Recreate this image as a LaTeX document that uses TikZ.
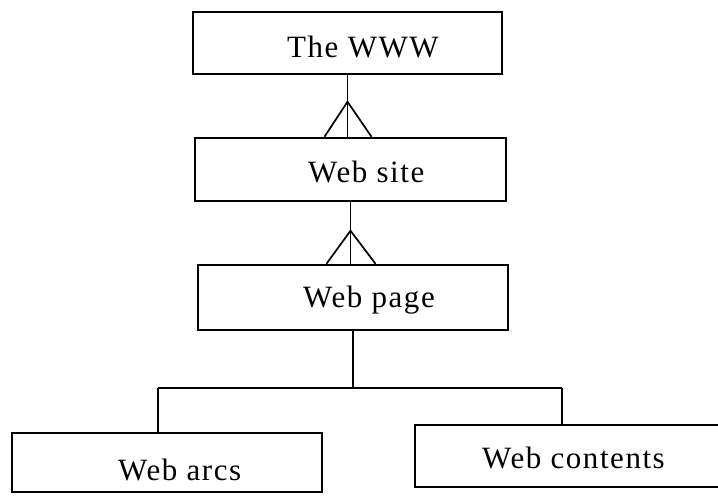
\documentclass[tikz,border=0pt]{standalone}
\usepackage{fontspec}
\setmainfont{Liberation Serif}[LetterSpace=5]
\usetikzlibrary{calc}
\tikzset{
  box/.style={draw, line width=2.5pt, rectangle, inner sep=0pt},
  conn/.style={line width=1.7pt},
  lbl/.style={anchor=base west, inner sep=0pt, font=\fontsize{31}{36}\selectfont},
}
\begin{document}
\begin{tikzpicture}[x=1pt,y=-1pt]
\useasboundingbox (0,0) rectangle (718,497);
\clip (0,0) rectangle (718,497);
% boxes
\node[box, minimum width=309pt, minimum height=62pt] (www)  at (347.5,43) {};
\node[box, minimum width=311pt, minimum height=63pt] (site) at (350.5,169.5) {};
\node[box, minimum width=310pt, minimum height=65pt] (page) at (353,297.5) {};
\node[box, minimum width=310pt, minimum height=59pt] (arcs) at (167,462.5) {};
\node[box, minimum width=360pt, minimum height=62pt] (cont) at (595,456) {};
% labels
\node[lbl] (t1) at (287,58)  {The WWW};
\node[lbl] (t2) at (308,183) {Web site};
\node[lbl] (t3) at (303,308) {Web page};
\node[lbl] (t4) at (118,480) {Web arcs};
\node[lbl] (t5) at (482,468) {Web contents};
% WWW -> Web site (crow's foot)
\coordinate (a1) at (www.south |- site.north);
\draw[conn] (www.south) -- (a1);
\draw[conn] ([xshift=-23pt]a1) -- ([yshift=35pt]a1) -- ([xshift=24pt]a1);
% Web site -> Web page (crow's foot)
\coordinate (a2) at (site.south |- page.north);
\draw[conn] (site.south) -- (a2);
\draw[conn] ([xshift=-24pt]a2) -- ([yshift=33pt]a2) -- ([xshift=25pt]a2);
% Web page -> children
\coordinate (jl) at (158,388);
\coordinate (jr) at (562,388);
\draw[conn] (page.south) -- (page.south |- jl);
\draw[conn] (jl) -- (jr);
\draw[conn] (jl) -- (jl |- arcs.north);
\draw[conn] (jr) -- (jr |- cont.north);
\end{tikzpicture}
\end{document}
